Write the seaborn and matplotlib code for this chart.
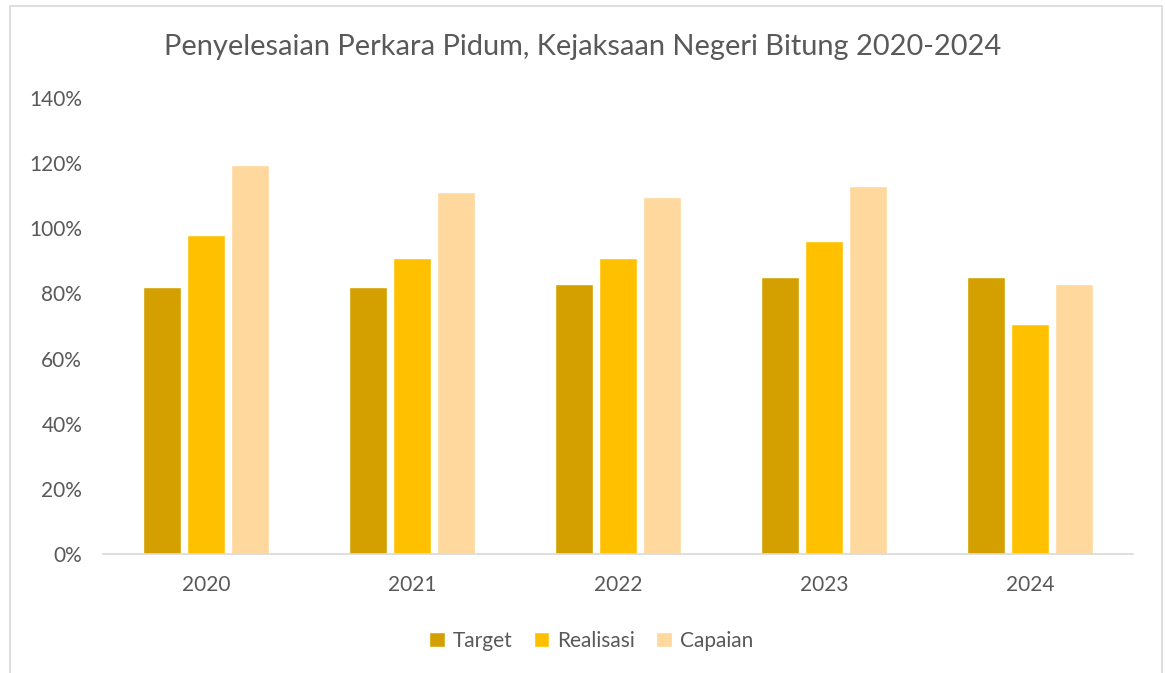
import matplotlib
matplotlib.use("Agg")
import matplotlib.pyplot as plt
import seaborn as sns
import pandas as pd
from matplotlib.patches import Rectangle
from matplotlib.ticker import FuncFormatter

years = ["2020", "2021", "2022", "2023", "2024"]
series = ["Target", "Realisasi", "Capaian"]
target = [82, 82, 83, 85, 85]
realisasi = [98, 91, 91, 96, 70.5]
capaian = [119.5, 111, 109.5, 113, 83]
colors = ["#D4A000", "#FFC000", "#FFD89E"]

df = pd.DataFrame({
    "Tahun": years * 3,
    "Seri": [s for s in series for _ in years],
    "Nilai": target + realisasi + capaian,
})

sns.set_theme(style="white")
plt.rcParams["font.family"] = ["Lato", "DejaVu Sans"]

fig = plt.figure(figsize=(11.65, 6.73), dpi=100)
ax = fig.add_axes([103/1165, 1-554/673, 1030/1165, 456/673])

sns.barplot(data=df, x="Tahun", y="Nilai", hue="Seri", order=years,
            hue_order=series, palette=colors, width=0.645, gap=0.14,
            saturation=1, ax=ax, legend=True)

ax.set_ylim(0, 140)
ax.set_xlim(-0.5, 4.5)
ax.set_yticks(range(0, 141, 20))
ax.yaxis.set_major_formatter(FuncFormatter(lambda v, p: f"{int(v)}%"))
ax.set_xlabel("")
ax.set_ylabel("")
for s in ["top", "right", "left"]:
    ax.spines[s].set_visible(False)
ax.spines["bottom"].set_color("#D9D9D9")
ax.spines["bottom"].set_linewidth(1.2)
ax.tick_params(axis="both", length=0, labelsize=15, colors="#595959")
ax.tick_params(axis="x", pad=15)
ax.tick_params(axis="y", pad=15)

ax.legend(loc="center", bbox_to_anchor=(0.474, -0.19), ncol=3, frameon=False,
          fontsize=15, labelcolor="#595959", handlelength=0.75, handleheight=0.75,
          handletextpad=0.4, columnspacing=1.0)

fig.text(0.5, 1-47/673, "Penyelesaian Perkara Pidum, Kejaksaan Negeri Bitung 2020-2024",
         ha="center", va="center", fontsize=20.9, color="#595959")

fig.patches.append(Rectangle((10/1165, -0.01), 1152/1165, 1-6/673+0.01,
                             transform=fig.transFigure, fill=False,
                             edgecolor="#D9D9D9", linewidth=1.2))

fig.savefig("out.png", dpi=100)
